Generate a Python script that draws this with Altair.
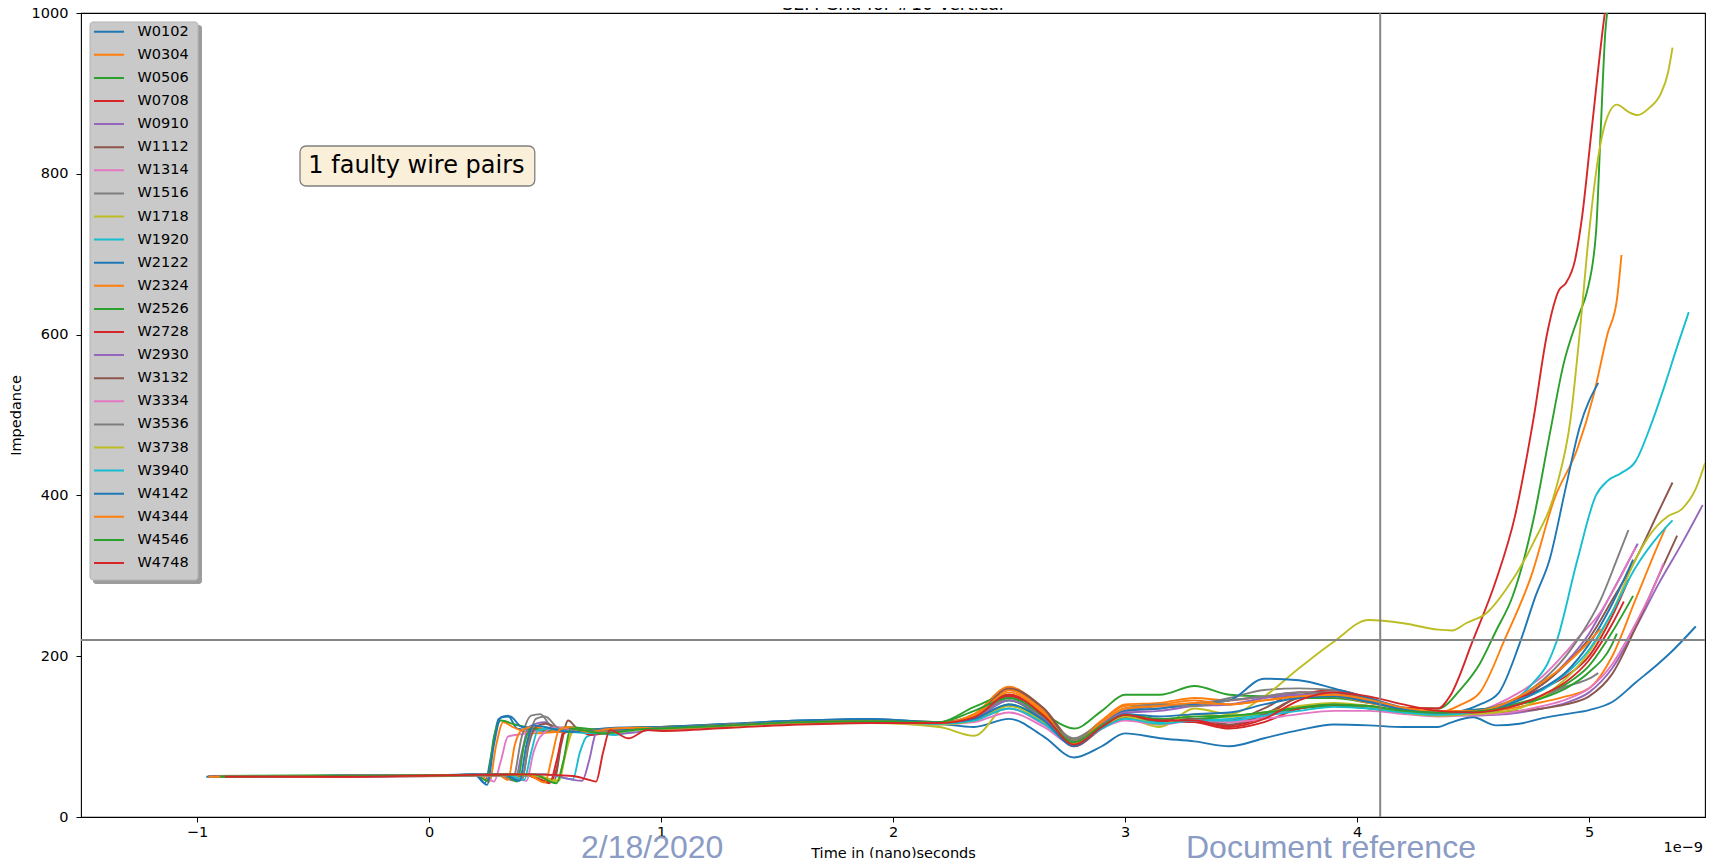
import altair as alt
import pandas as pd

NAMES = ["W0102", "W0304", "W0506", "W0708", "W0910", "W1112", "W1314", "W1516",
         "W1718", "W1920", "W2122", "W2324", "W2526", "W2728", "W2930", "W3132",
         "W3334", "W3536", "W3738", "W3940", "W4142", "W4344", "W4546", "W4748"]
TAB10 = ["#1f77b4", "#ff7f0e", "#2ca02c", "#d62728", "#9467bd",
         "#8c564b", "#e377c2", "#7f7f7f", "#bcbd22", "#17becf"]
COLORS = [TAB10[i % 10] for i in range(len(NAMES))]

# early part: flat ~50 then step up (times in ns)
EARLY_T = {
    "W0102": [-0.96, -0.5, 0.0, 0.2, 0.24, 0.27, 0.3, 0.34, 0.38, 0.45, 0.55, 0.7, 0.85],
    "W0304": [-0.93, -0.4, 0.1, 0.22, 0.26, 0.29, 0.32, 0.36, 0.45, 0.6, 0.8],
    "W0506": [-0.95, -0.3, 0.0, 0.2, 0.25, 0.28, 0.31, 0.37, 0.45, 0.6, 0.8],
    "W0708": [-0.9, -0.4, 0.1, 0.4, 0.52, 0.55, 0.58, 0.62, 0.7, 0.8, 0.9],
    "W0910": [-0.95, -0.5, 0.0, 0.3, 0.37, 0.4, 0.43, 0.5, 0.55, 0.65, 0.8],
    "W1112": [-0.9, -0.3, 0.1, 0.45, 0.54, 0.57, 0.6, 0.64, 0.72, 0.85],
    "W1314": [-0.93, -0.4, 0.1, 0.24, 0.28, 0.31, 0.34, 0.4, 0.5, 0.65, 0.8],
    "W1516": [-0.95, -0.5, 0.0, 0.3, 0.36, 0.4, 0.44, 0.48, 0.53, 0.62, 0.8],
    "W1718": [-0.88, -0.4, 0.1, 0.45, 0.56, 0.59, 0.62, 0.68, 0.78, 0.9],
    "W1920": [-0.9, -0.4, 0.1, 0.5, 0.62, 0.65, 0.68, 0.73, 0.8, 0.9],
    "W2122": [-0.95, -0.5, 0.0, 0.2, 0.25, 0.28, 0.31, 0.35, 0.4, 0.5, 0.65, 0.8],
    "W2324": [-0.92, -0.4, 0.05, 0.3, 0.34, 0.37, 0.4, 0.45, 0.55, 0.7, 0.85],
    "W2526": [-0.9, -0.4, 0.1, 0.32, 0.38, 0.41, 0.44, 0.5, 0.6, 0.75, 0.9],
    "W2728": [-0.93, -0.4, 0.1, 0.42, 0.52, 0.55, 0.58, 0.63, 0.7, 0.8, 0.9],
    "W2930": [-0.95, -0.4, 0.1, 0.5, 0.66, 0.69, 0.72, 0.76, 0.85, 0.95],
    "W3132": [-0.9, -0.3, 0.1, 0.33, 0.4, 0.43, 0.46, 0.5, 0.58, 0.7, 0.85],
    "W3334": [-0.92, -0.4, 0.1, 0.35, 0.42, 0.45, 0.48, 0.55, 0.65, 0.8],
    "W3536": [-0.95, -0.5, 0.0, 0.33, 0.4, 0.43, 0.46, 0.5, 0.56, 0.65, 0.8],
    "W3738": [-0.88, -0.3, 0.1, 0.45, 0.55, 0.58, 0.61, 0.66, 0.75, 0.9],
    "W3940": [-0.9, -0.4, 0.1, 0.34, 0.41, 0.44, 0.47, 0.52, 0.6, 0.75, 0.9],
    "W4142": [-0.93, -0.5, 0.0, 0.32, 0.39, 0.42, 0.45, 0.5, 0.6, 0.75, 0.9],
    "W4344": [-0.95, -0.4, 0.1, 0.42, 0.5, 0.53, 0.56, 0.6, 0.68, 0.8, 0.9],
    "W4546": [-0.9, -0.4, 0.1, 0.45, 0.55, 0.58, 0.61, 0.66, 0.75, 0.9],
    "W4748": [-0.88, -0.4, 0.1, 0.45, 0.62, 0.68, 0.72, 0.75, 0.78, 0.86, 0.94],
}
EARLY_V = {
    "W0102": [50, 50, 51, 52, 42, 80, 122, 126, 110, 108, 106, 108, 110],
    "W0304": [51, 51, 52, 53, 44, 90, 118, 112, 104, 107, 110],
    "W0506": [51, 52, 51, 53, 45, 100, 120, 115, 110, 106, 110],
    "W0708": [50, 51, 52, 53, 44, 60, 108, 110, 104, 108, 110],
    "W0910": [50, 51, 52, 53, 45, 80, 112, 118, 110, 106, 108],
    "W1112": [50, 51, 52, 51, 46, 90, 120, 110, 106, 110],
    "W1314": [50, 51, 52, 52, 44, 70, 100, 103, 108, 106, 110],
    "W1516": [51, 51, 52, 53, 46, 100, 126, 128, 112, 108, 110],
    "W1718": [50, 51, 52, 52, 45, 80, 106, 108, 105, 108],
    "W1920": [50, 51, 52, 53, 47, 80, 100, 104, 102, 108],
    "W2122": [50, 51, 52, 53, 40, 90, 124, 125, 112, 110, 108, 111],
    "W2324": [51, 51, 52, 52, 46, 90, 108, 112, 106, 108, 110],
    "W2526": [50, 51, 52, 53, 44, 90, 110, 108, 112, 108, 111],
    "W2728": [50, 50, 51, 52, 42, 70, 104, 108, 102, 106, 109],
    "W2930": [50, 51, 52, 53, 45, 70, 104, 108, 104, 108],
    "W3132": [50, 51, 52, 53, 46, 90, 112, 116, 108, 107, 110],
    "W3334": [50, 51, 52, 52, 45, 80, 100, 112, 106, 109],
    "W3536": [50, 51, 51, 53, 46, 95, 122, 125, 110, 106, 110],
    "W3738": [50, 51, 52, 52, 44, 70, 104, 108, 104, 108],
    "W3940": [50, 51, 52, 52, 46, 80, 108, 110, 106, 104, 109],
    "W4142": [50, 51, 52, 53, 45, 90, 114, 112, 106, 108, 110],
    "W4344": [50, 51, 52, 53, 43, 75, 108, 112, 106, 110, 111],
    "W4546": [50, 51, 52, 53, 42, 70, 110, 108, 104, 109],
    "W4748": [50, 50, 52, 53, 51, 47, 44, 80, 108, 98, 108],
}

# middle part, common time grid
MID_T = [1.0, 1.3, 1.6, 1.9, 2.2, 2.35, 2.5, 2.65, 2.78, 2.9,
         3.0, 3.15, 3.3, 3.45, 3.6, 3.75, 3.9, 4.05, 4.2, 4.35]
MID_V = {
    "W0102": [112, 116, 120, 122, 116, 112, 122, 100, 74, 88, 104, 98, 94, 88, 98, 108, 115, 114, 112, 112],
    "W0304": [112, 115, 119, 120, 117, 128, 162, 132, 96, 120, 140, 142, 148, 145, 150, 152, 152, 145, 135, 130],
    "W0506": [112, 115, 119, 120, 118, 137, 152, 128, 110, 132, 152, 152, 163, 152, 150, 148, 148, 142, 136, 135],
    "W0708": [108, 113, 117, 119, 118, 122, 152, 125, 95, 112, 128, 120, 118, 114, 125, 150, 158, 148, 136, 135],
    "W0910": [110, 114, 118, 119, 117, 124, 150, 125, 92, 115, 132, 135, 142, 145, 150, 155, 155, 145, 135, 130],
    "W1112": [111, 115, 119, 120, 118, 126, 158, 135, 96, 112, 125, 118, 122, 120, 135, 155, 155, 146, 135, 130],
    "W1314": [110, 114, 118, 119, 116, 120, 135, 115, 92, 112, 125, 118, 120, 118, 125, 135, 140, 138, 132, 128],
    "W1516": [111, 115, 119, 120, 117, 125, 150, 128, 98, 118, 132, 138, 140, 148, 158, 160, 158, 148, 135, 130],
    "W1718": [109, 112, 116, 117, 112, 101, 140, 118, 95, 110, 123, 112, 135, 128, 150, 185, 218, 245, 241, 233],
    "W1920": [110, 114, 118, 119, 116, 122, 140, 118, 92, 112, 124, 118, 120, 122, 128, 135, 140, 138, 132, 128],
    "W2122": [112, 116, 120, 122, 118, 124, 145, 122, 90, 115, 132, 135, 140, 145, 172, 170, 160, 148, 136, 130],
    "W2324": [111, 115, 118, 119, 117, 128, 158, 130, 94, 120, 138, 140, 145, 140, 145, 150, 150, 142, 134, 130],
    "W2526": [110, 114, 118, 119, 117, 124, 145, 120, 90, 112, 125, 120, 122, 125, 130, 135, 138, 135, 130, 128],
    "W2728": [108, 112, 116, 118, 117, 123, 150, 124, 88, 110, 125, 120, 118, 110, 118, 135, 140, 138, 130, 127],
    "W2930": [109, 113, 117, 118, 116, 122, 145, 123, 92, 115, 130, 132, 138, 140, 148, 152, 152, 144, 134, 128],
    "W3132": [110, 114, 118, 119, 117, 125, 160, 135, 92, 112, 125, 120, 122, 115, 128, 148, 152, 145, 133, 128],
    "W3334": [109, 113, 117, 118, 115, 118, 130, 112, 90, 110, 120, 115, 120, 118, 122, 128, 132, 132, 128, 125],
    "W3536": [110, 114, 118, 119, 117, 124, 148, 126, 95, 118, 135, 140, 138, 145, 150, 155, 152, 145, 133, 128],
    "W3738": [109, 113, 117, 118, 115, 120, 138, 118, 93, 112, 125, 115, 128, 125, 130, 138, 142, 138, 130, 126],
    "W3940": [110, 114, 118, 119, 116, 120, 135, 116, 90, 110, 122, 116, 120, 120, 126, 132, 137, 135, 130, 127],
    "W4142": [111, 115, 119, 120, 117, 122, 140, 120, 88, 112, 128, 125, 128, 130, 140, 148, 150, 143, 134, 130],
    "W4344": [110, 114, 118, 119, 117, 126, 155, 128, 92, 118, 135, 138, 142, 140, 145, 150, 152, 146, 136, 132],
    "W4546": [110, 114, 118, 119, 118, 132, 148, 125, 93, 114, 127, 122, 125, 126, 130, 136, 140, 138, 132, 130],
    "W4748": [107, 111, 115, 117, 117, 124, 152, 126, 90, 112, 127, 120, 120, 112, 122, 145, 155, 150, 140, 132],
}

# end part: the rise of each trace
END_T = {
    "W0102": [4.4, 4.5, 4.6, 4.7, 4.8, 4.9, 5.0, 5.1, 5.2, 5.3, 5.35, 5.46],
    "W0304": [4.45, 4.53, 4.64, 4.75, 4.85, 4.95, 5.02, 5.08, 5.12, 5.14],
    "W0506": [4.45, 4.53, 4.6, 4.67, 4.76, 4.83, 4.89, 4.96, 4.99, 5.03, 5.05, 5.07, 5.09],
    "W0708": [4.4, 4.5, 4.6, 4.68, 4.76, 4.82, 4.87, 4.9, 4.94, 4.97, 5.01, 5.07, 5.1],
    "W0910": [4.5, 4.6, 4.7, 4.8, 4.9, 5.0, 5.1, 5.21],
    "W1112": [4.5, 4.6, 4.7, 4.8, 4.9, 5.0, 5.1, 5.2, 5.3, 5.36],
    "W1314": [4.5, 4.6, 4.7, 4.8, 4.9, 4.95, 5.05, 5.12, 5.2],
    "W1516": [4.5, 4.6, 4.7, 4.8, 4.9, 4.95, 5.05, 5.12, 5.17],
    "W1718": [4.41, 4.47, 4.56, 4.64, 4.76, 4.86, 4.92, 4.96, 5.0, 5.04, 5.07, 5.12, 5.17, 5.21, 5.26, 5.31, 5.34, 5.36],
    "W1920": [4.5, 4.6, 4.67, 4.76, 4.82, 4.86, 4.95, 5.03, 5.08, 5.14, 5.2, 5.27, 5.33, 5.38, 5.43],
    "W2122": [4.45, 4.53, 4.61, 4.7, 4.77, 4.83, 4.9, 4.96, 5.04],
    "W2324": [4.5, 4.6, 4.7, 4.8, 4.9, 5.0, 5.1, 5.2, 5.3, 5.33],
    "W2526": [4.5, 4.6, 4.7, 4.8, 4.9, 5.0, 5.1, 5.19],
    "W2728": [4.5, 4.6, 4.7, 4.8, 4.9, 5.0, 5.1, 5.17],
    "W2930": [4.5, 4.6, 4.7, 4.8, 4.9, 5.0, 5.1, 5.2, 5.3, 5.4, 5.49],
    "W3132": [4.5, 4.6, 4.7, 4.8, 4.9, 5.0, 5.1, 5.2, 5.3, 5.38],
    "W3334": [4.5, 4.6, 4.7, 4.8, 4.9, 5.0, 5.1, 5.2, 5.3, 5.32],
    "W3536": [4.5, 4.6, 4.7, 4.8, 4.9, 5.0, 5.04],
    "W3738": [4.5, 4.6, 4.7, 4.8, 4.9, 5.0, 5.1, 5.2, 5.26, 5.34, 5.4, 5.46, 5.5],
    "W3940": [4.5, 4.6, 4.7, 4.8, 4.9, 5.0, 5.1, 5.2, 5.3, 5.36],
    "W4142": [4.5, 4.6, 4.7, 4.8, 4.9, 5.0, 5.1, 5.19],
    "W4344": [4.5, 4.6, 4.7, 4.8, 4.9, 5.0, 5.05],
    "W4546": [4.5, 4.6, 4.7, 4.8, 4.9, 5.0, 5.1, 5.12],
    "W4748": [4.5, 4.6, 4.7, 4.8, 4.9, 5.0, 5.1, 5.15],
}
END_V = {
    "W0102": [117, 124, 114, 116, 123, 128, 133, 143, 167, 191, 204, 237],
    "W0304": [140, 155, 223, 299, 395, 458, 525, 601, 643, 699],
    "W0506": [160, 191, 232, 274, 369, 475, 563, 627, 652, 726, 851, 975, 1020],
    "W0708": [150, 220, 295, 373, 494, 602, 655, 664, 693, 746, 851, 1004, 1060],
    "W0910": [128, 135, 147, 165, 192, 228, 280, 340],
    "W1112": [132, 138, 148, 165, 190, 222, 270, 320, 380, 416],
    "W1314": [130, 140, 155, 175, 205, 222, 255, 290, 335],
    "W1516": [132, 138, 150, 170, 200, 220, 270, 320, 357],
    "W1718": [232, 241, 254, 282, 341, 411, 494, 602, 726, 821, 863, 886, 877, 873, 882, 900, 925, 957],
    "W1920": [130, 134, 143, 167, 190, 218, 320, 400, 418, 428, 442, 490, 540, 585, 628],
    "W2122": [132, 140, 154, 215, 275, 320, 410, 485, 540],
    "W2324": [130, 132, 137, 143, 150, 160, 200, 270, 340, 360],
    "W2526": [133, 136, 142, 150, 165, 188, 230, 275],
    "W2728": [128, 135, 148, 160, 175, 200, 250, 295],
    "W2930": [126, 127, 130, 135, 142, 155, 185, 235, 290, 340, 388],
    "W3132": [128, 130, 132, 135, 140, 150, 178, 235, 300, 350],
    "W3334": [127, 128, 132, 138, 146, 160, 190, 240, 300, 315],
    "W3536": [128, 133, 140, 150, 162, 172, 179],
    "W3738": [128, 130, 135, 150, 172, 205, 255, 320, 350, 374, 383, 408, 440],
    "W3940": [130, 137, 146, 158, 178, 208, 255, 310, 350, 369],
    "W4142": [133, 136, 145, 160, 180, 215, 265, 320],
    "W4344": [132, 137, 150, 168, 190, 218, 234],
    "W4546": [131, 134, 140, 148, 160, 180, 215, 228],
    "W4748": [130, 133, 140, 152, 168, 195, 240, 268],
}

X_TICKS = [-1, 0, 1, 2, 3, 4, 5]
Y_TICKS = [0, 200, 400, 600, 800, 1000]
X_DOMAIN = [-1.5, 5.5]
Y_DOMAIN = [0, 1000]
VLINE_T = 4.1
HLINE_Z = 220
BOX_T = [-0.556, 0.456]
BOX_Z = [834.6, 784.8]
BOX_TEXT = "1 faulty wire pairs"
BOX_TEXT_T = -0.52
BOX_TEXT_Z = 810

FONT = "DejaVu Sans"
W, H = 1624, 804

rows = []
for name in NAMES:
    ts = EARLY_T[name] + MID_T + END_T[name]
    vs = EARLY_V[name] + MID_V[name] + END_V[name]
    for t, v in zip(ts, vs):
        rows.append({"wire": name, "t": t, "z": v})
df = pd.DataFrame(rows)

xscale = alt.Scale(domain=X_DOMAIN, nice=False, zero=False)
yscale = alt.Scale(domain=Y_DOMAIN, nice=False, zero=False)
xaxis = alt.Axis(values=X_TICKS, format="d", title="Time in (nano)seconds",
                 titleX=W / 2, titleY=40, titleBaseline="alphabetic", titleAlign="center",
                 labelPadding=3)
yaxis = alt.Axis(values=Y_TICKS, format="d", title="Impedance",
                 titleX=-65, titleY=H / 2, titleAngle=270, titleAlign="center",
                 titleBaseline="middle", labelPadding=8)

one = pd.DataFrame({"k": [0]})

shadow = alt.Chart(one).mark_rect(fill="#9c9c9c", cornerRadius=3).encode(
    x=alt.value(12), x2=alt.value(121), y=alt.value(12), y2=alt.value(571))
legbox = alt.Chart(one).mark_rect(fill="#c9c9c9", stroke="#b4b4b4", strokeWidth=1,
                                  cornerRadius=3).encode(
    x=alt.value(9), x2=alt.value(117), y=alt.value(9), y2=alt.value(567))

box = alt.Chart(pd.DataFrame({"t": [BOX_T[0]], "t2": [BOX_T[1]],
                              "z": [BOX_Z[0]], "z2": [BOX_Z[1]]})).mark_rect(
    fill="#FAEFD9", stroke="#808080", strokeWidth=1.3, cornerRadius=6).encode(
    x=alt.X("t:Q", scale=xscale, axis=xaxis), x2="t2:Q",
    y=alt.Y("z:Q", scale=yscale, axis=yaxis), y2="z2:Q")
boxtext = alt.Chart(pd.DataFrame({"t": [BOX_TEXT_T], "z": [BOX_TEXT_Z],
                                  "s": [BOX_TEXT]})).mark_text(
    align="left", baseline="middle", fontSize=24, font=FONT, color="black").encode(
    x=alt.X("t:Q", scale=xscale, axis=xaxis), y=alt.Y("z:Q", scale=yscale, axis=yaxis),
    text="s:N")

lines = alt.Chart(df).mark_line(strokeWidth=1.9, clip=True, interpolate="monotone").encode(
    x=alt.X("t:Q", scale=xscale, axis=xaxis),
    y=alt.Y("z:Q", scale=yscale, axis=yaxis),
    color=alt.Color("wire:N", scale=alt.Scale(domain=NAMES, range=COLORS), sort=NAMES,
                    legend=alt.Legend(title=None, orient="none", legendX=9, legendY=8.2,
                                      padding=0, symbolType="stroke", symbolSize=900,
                                      symbolStrokeWidth=2, clipHeight=21, rowPadding=2.1,
                                      labelFontSize=14.5, labelFont=FONT, labelColor="black",
                                      symbolOffset=3, labelOffset=12.5, labelBaseline="middle",
                                      symbolLimit=50)),
)

vline = alt.Chart(pd.DataFrame({"t": [VLINE_T]})).mark_rule(color="#858585", strokeWidth=2).encode(
    x=alt.X("t:Q", scale=xscale, axis=xaxis))
hline = alt.Chart(pd.DataFrame({"z": [HLINE_Z]})).mark_rule(color="#858585", strokeWidth=2).encode(
    y=alt.Y("z:Q", scale=yscale, axis=yaxis))

title = alt.Chart(one).mark_text(text="SEM Grid for #10 Vertical", fontSize=17.4, font=FONT,
                                 align="center", baseline="alphabetic", color="black").encode(
    x=alt.value(W / 2), y=alt.value(-3))
offset = alt.Chart(one).mark_text(text="1e\u22129", fontSize=14.5, font=FONT, align="right",
                                  baseline="alphabetic", color="black").encode(
    x=alt.value(W - 2), y=alt.value(839))
date = alt.Chart(one).mark_text(text="2/18/2020", fontSize=32, font="Liberation Sans",
                                align="left", baseline="alphabetic", color="#8A9BC4").encode(
    x=alt.value(500), y=alt.value(845))
docref = alt.Chart(one).mark_text(text="Document reference", fontSize=32, font="Liberation Sans",
                                  align="left", baseline="alphabetic", color="#8A9BC4").encode(
    x=alt.value(1105), y=alt.value(845))

chart = alt.layer(shadow, legbox, box, boxtext, lines, vline, hline,
                  title, offset, date, docref).properties(
    width=W, height=H,
    autosize=alt.AutoSizeParams(type="none"),
    padding={"left": 73, "top": 5, "right": 1, "bottom": 41},
).configure(font=FONT).configure_view(
    stroke="black", strokeWidth=1.1
).configure_axis(
    grid=False, domain=False, tickColor="black", tickSize=5, tickWidth=1,
    labelFont=FONT, labelFontSize=14.5, labelColor="black",
    titleFont=FONT, titleFontSize=14.5, titleFontWeight="normal", titleColor="black"
)

chart.save("out.html", embed_options={"renderer": "svg", "actions": False})
